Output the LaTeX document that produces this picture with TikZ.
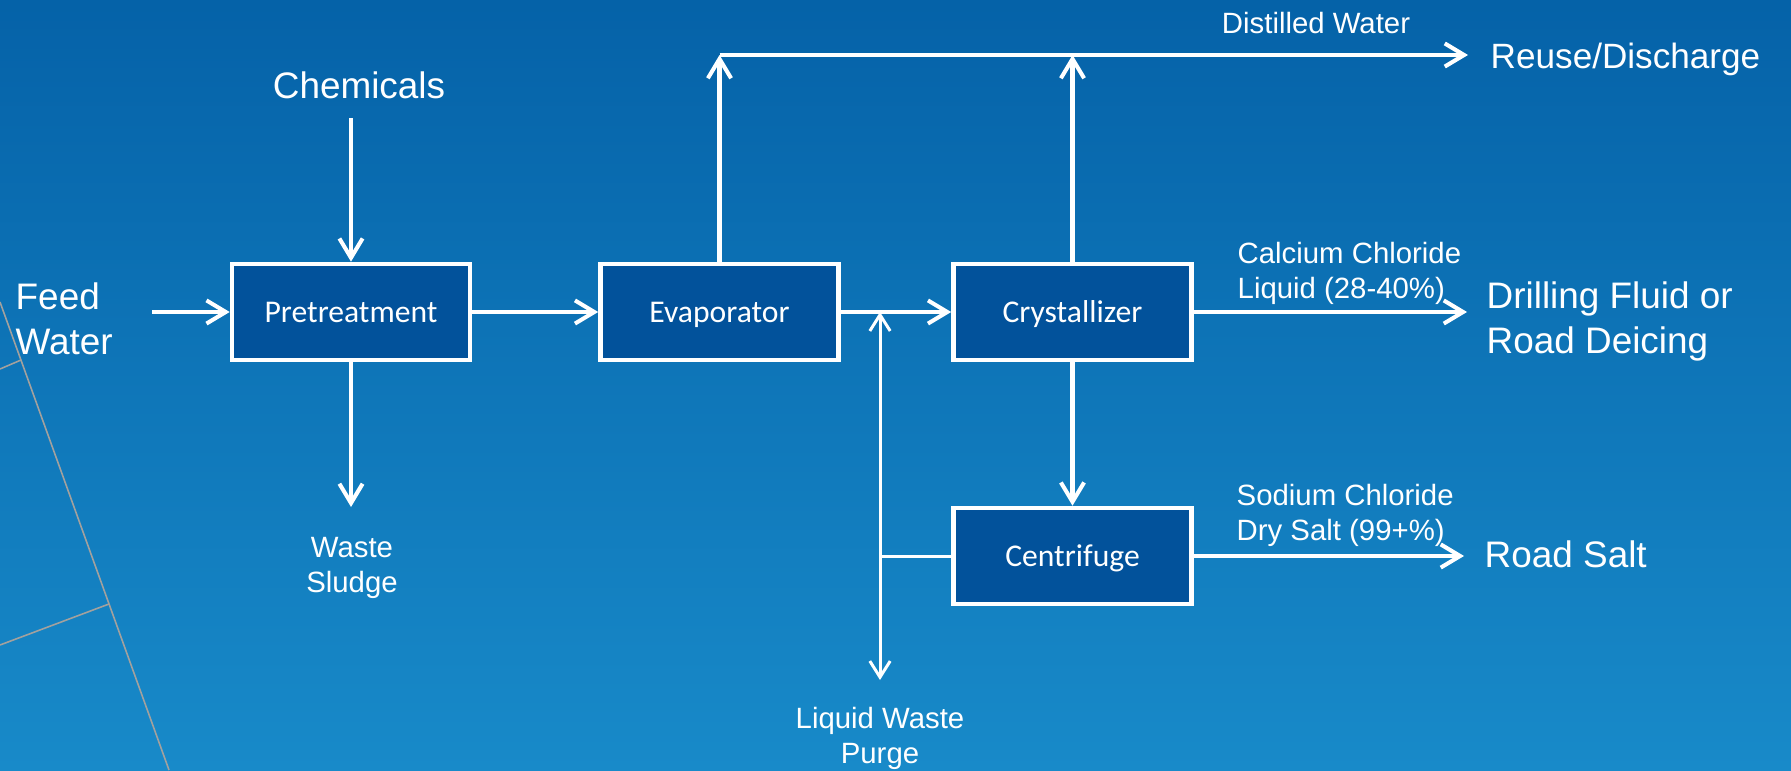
\documentclass[tikz,border=0pt]{standalone}
\usepackage{fontspec}
\setmainfont{Liberation Sans}
\newfontfamily\boxfont{Carlito}
\usetikzlibrary{arrows.meta}
\definecolor{bgtop}{HTML}{0562A8}
\definecolor{bgbot}{HTML}{188AC9}
\definecolor{boxblue}{HTML}{02529B}
\definecolor{edgegray}{HTML}{A3A19E}
\tikzset{
  unit/.style={draw=white, line width=1.3pt, fill=boxblue, text=white,
    minimum width=23.8mm, minimum height=9.6mm, inner sep=0pt,
    text height=5.8pt, text depth=0pt,
    font=\boxfont\fontsize{9}{11}\selectfont},
  biglabel/.style={text=white, inner sep=0pt,
    font=\fontsize{10.5}{12.8}\selectfont},
  smalllabel/.style={text=white, inner sep=0pt,
    font=\fontsize{8.35}{9.95}\selectfont},
  flow/.style={white, line width=1.15pt,
    -{Straight Barb[length=5.5pt,width=6.6pt]}},
  thinflow/.style={white, line width=0.85pt,
    -{Straight Barb[length=4.6pt,width=5.8pt]}},
  thinline/.style={white, line width=0.85pt},
  deco/.style={edgegray, line width=0.45pt}
}
\begin{document}
\begin{tikzpicture}[x=0.1mm,y=-0.1mm]
  % backdrop
  \shade[top color=bgtop, bottom color=bgbot] (0,0) rectangle (1791,770);
  \useasboundingbox (0,0) rectangle (1791,770);
  \draw[deco] (0,302) -- (169,770);
  \draw[deco] (0,369) -- (21,360);
  \draw[deco] (0,645) -- (109,604);

  % process units
  \node[unit] (pre)  at (351,312)    {Pretreatment};
  \node[unit] (evap) at (719.5,312)  {Evaporator};
  \node[unit] (cry)  at (1072.5,312) {Crystallizer};
  \node[unit] (cen)  at (1072.5,556) {Centrifuge};

  % stream labels (two-line labels are placed by their last baseline)
  \node[biglabel, anchor=base] (chem) at (359,98) {Chemicals};
  \node[biglabel, anchor=base west, align=left] (feed) at (15,354) {Feed\\Water};
  \node[smalllabel, anchor=base, align=center] (sludge) at (352,592) {Waste\\Sludge};
  \node[smalllabel, anchor=base, align=center] (purge) at (880,763) {Liquid Waste\\Purge};
  \node[smalllabel, anchor=base] (dw) at (1316,33) {Distilled Water};
  \node[biglabel, anchor=base west, font=\fontsize{10}{12}\selectfont] (reuse) at (1490,68) {Reuse/Discharge};
  \node[smalllabel, anchor=base west, align=left] (cacl) at (1237,298) {Calcium Chloride\\Liquid (28-40\%)};
  \node[biglabel, anchor=base west, align=left] (drill) at (1486,353) {Drilling Fluid or\\Road Deicing};
  \node[smalllabel, anchor=base west, align=left] (nacl) at (1236,540) {Sodium Chloride\\Dry Salt (99+\%)};
  \node[biglabel, anchor=base west] (salt) at (1484,567) {Road Salt};

  % free ends and junctions
  \coordinate (feedin)  at (152,312);
  \coordinate (chemtop) at (351,118);
  \coordinate (sludgetip) at (351,507);
  \coordinate (evtop)   at (719.5,55);
  \coordinate (dwtip)   at (1468,55);
  \coordinate (catip)   at (1467,312);
  \coordinate (salttip) at (1464,556);
  \coordinate (junc)    at (880,312);
  \coordinate (split)   at (880,556);
  \coordinate (purgetip) at (880,680);

  % main flows
  \draw[flow] (feedin) -- (pre.west);
  \draw[flow] (chemtop) -- (pre.north);
  \draw[flow] (pre.south) -- (sludgetip);
  \draw[flow] (pre.east) -- (evap.west);
  \draw[flow] (evap.north) -- (evtop);
  \draw[flow] (evtop) -- (dwtip);
  \draw[flow] (cry.north) -- (cry.north |- evtop);
  \draw[flow] (evap.east) -- (cry.west);
  \draw[flow] (cry.east) -- (catip);
  \draw[flow] (cry.south) -- (cen.north);
  \draw[flow] (cen.east) -- (salttip);

  % centrate return and purge
  \draw[thinline] (cen.west) -- (split);
  \draw[thinflow] (split) -- (junc);
  \draw[thinflow] (split) -- (purgetip);
\end{tikzpicture}
\end{document}
